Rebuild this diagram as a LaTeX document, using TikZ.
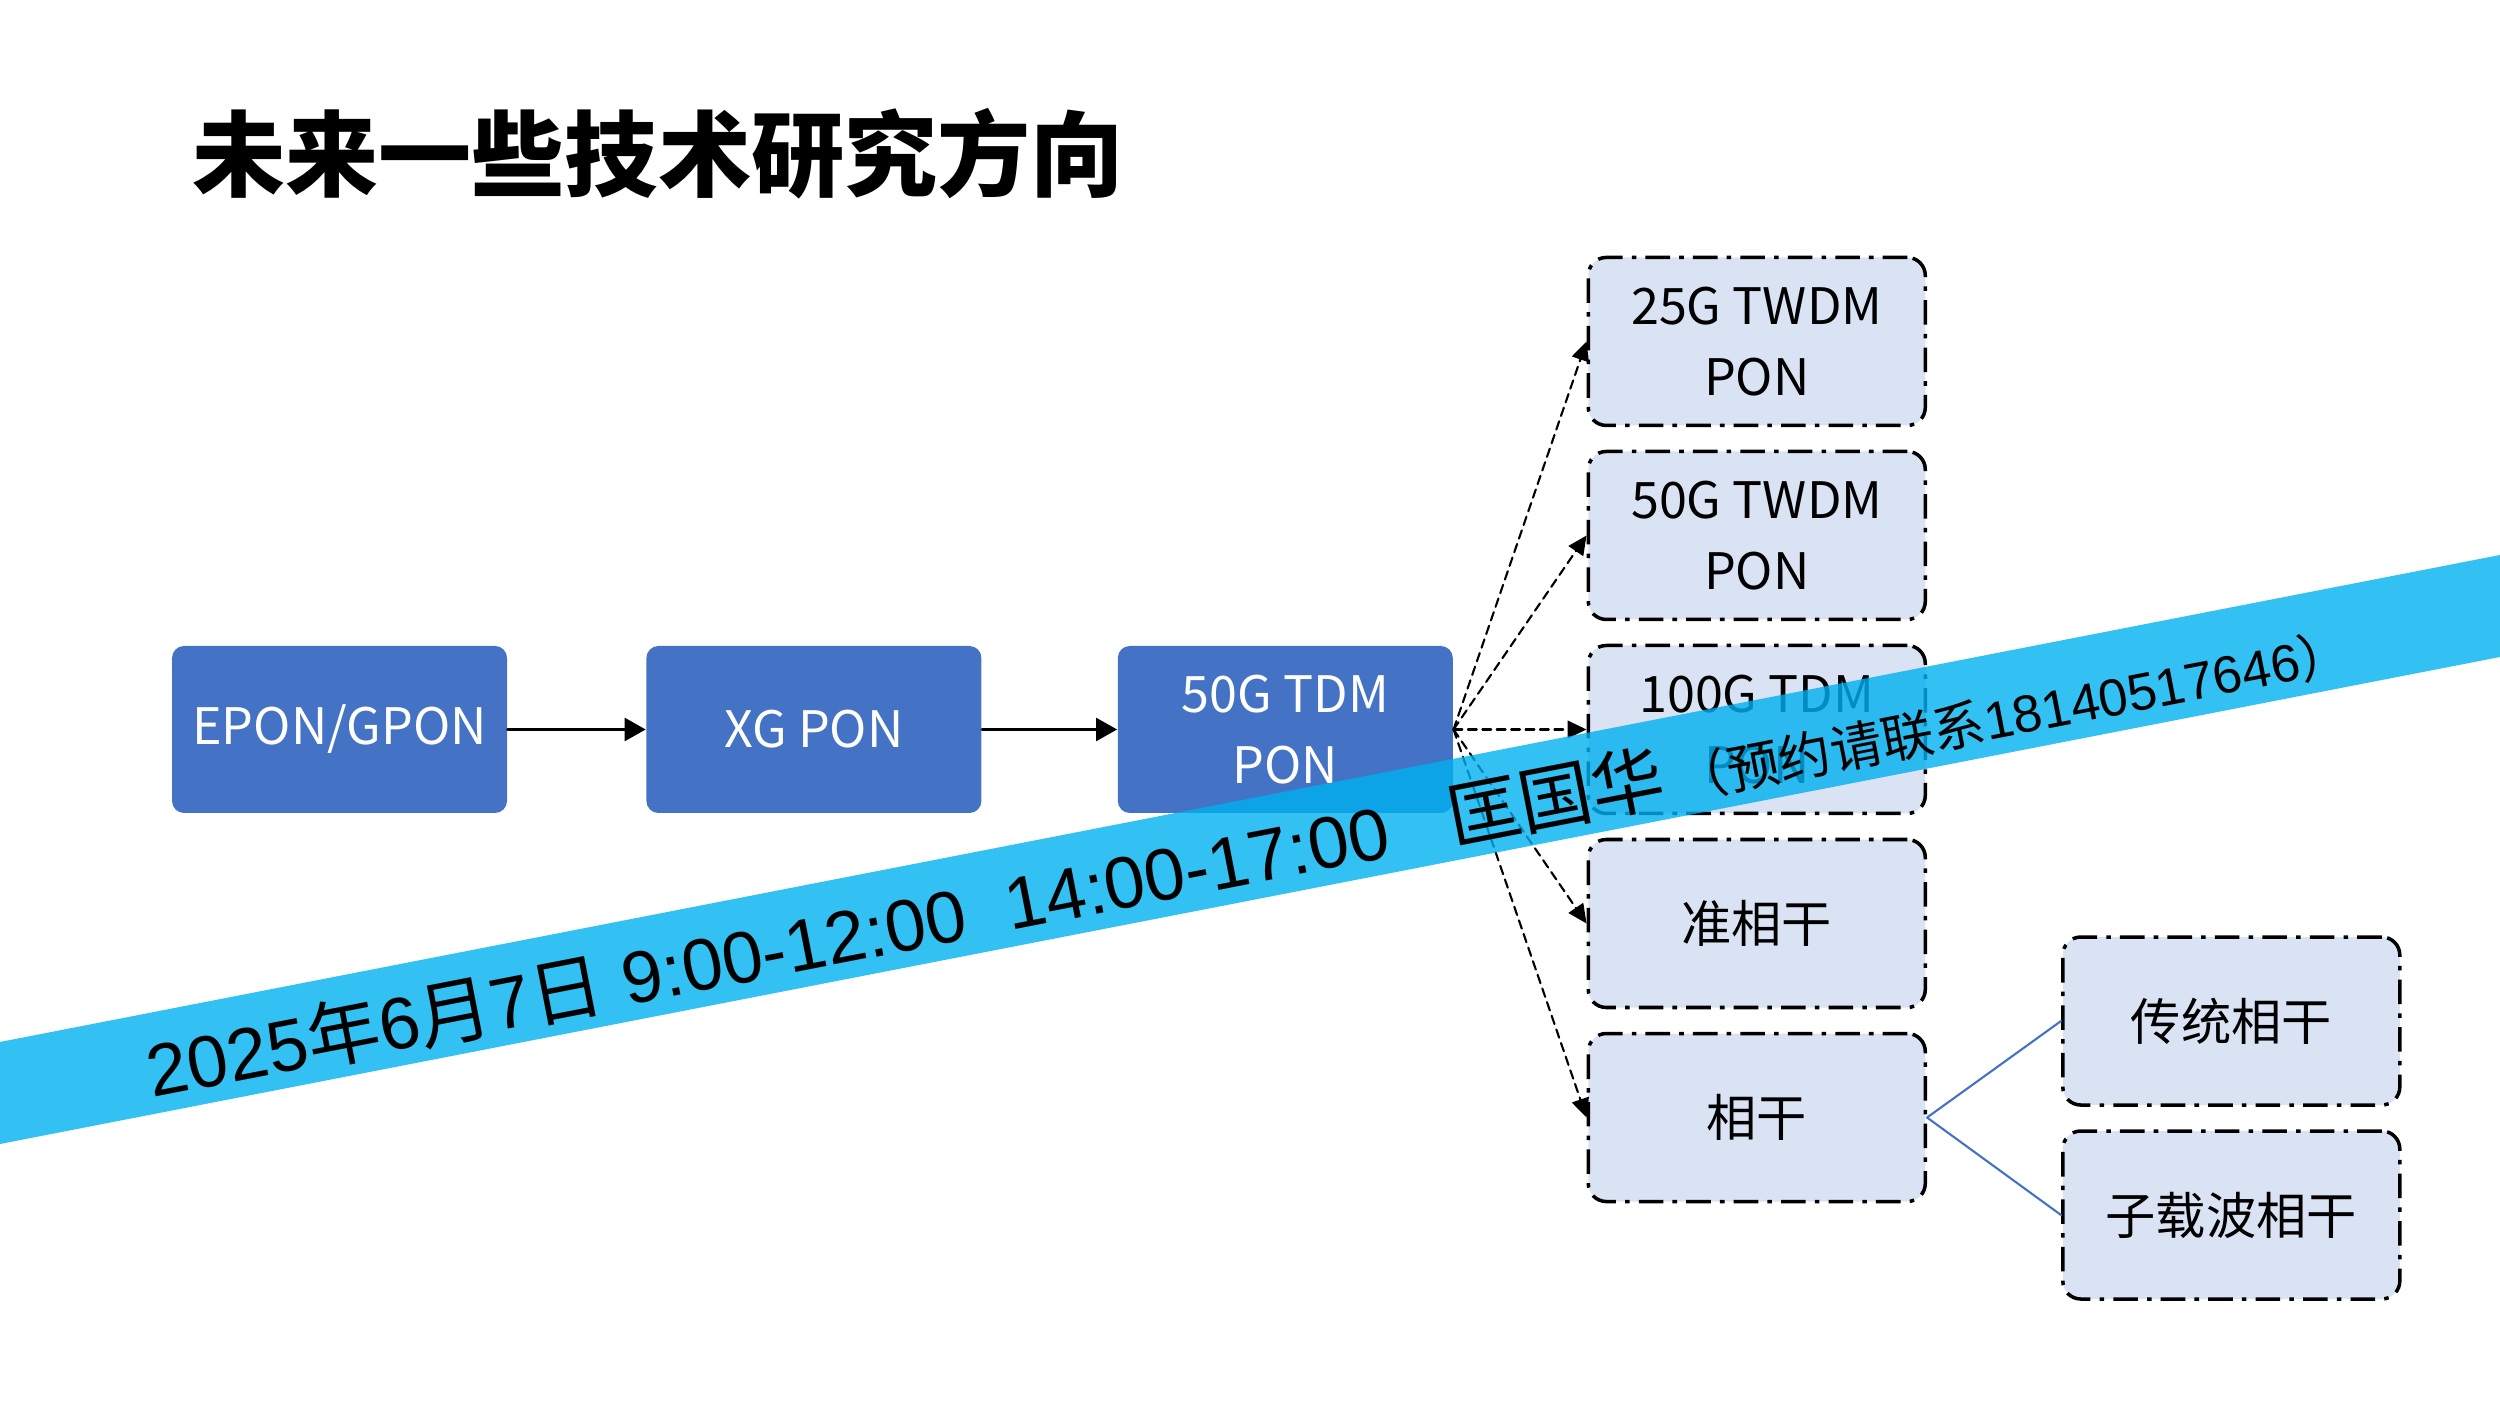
\documentclass[tikz,border=0pt]{standalone}
\usepackage{fontspec}
\setmainfont{Noto Sans CJK SC}
\newfontfamily\arialf{Liberation Sans}
\newfontfamily\cjkf{Noto Sans CJK SC}
\usetikzlibrary{arrows.meta,positioning}
\definecolor{stageblue}{HTML}{4472C4}
\definecolor{optfill}{HTML}{DAE3F3}
\definecolor{bandblue}{HTML}{00B0F0}

\begin{document}
\begin{tikzpicture}[line cap=round,line join=round,>={Triangle[length=6pt,width=6.5pt]},x=1.0cm,y=1.0cm,
	stage/.style={rectangle,rounded corners=1.2mm,fill=stageblue,text=white,minimum width=3.35cm,minimum height=1.67cm,
		align=center,inner sep=0pt,font=\fontsize{14.3}{20.2}\selectfont},
	option/.style={rectangle,rounded corners=1.8mm,fill=optfill,draw=black,line width=1pt,line cap=butt,
		dash pattern=on 7pt off 2.6pt on 1.3pt off 2.6pt,minimum width=3.37cm,minimum height=1.68cm,
		align=center,inner sep=0pt,font=\fontsize{14.3}{20.2}\selectfont},
	trend/.style={-{Triangle[length=5.4pt,width=5pt]},line width=0.6pt,dash pattern=on 2.5pt off 1.6pt}]
	\useasboundingbox (0,0) rectangle (25,14.06);
	\node[font=\fontsize{26.5}{30}\selectfont\bfseries] (title) at (6.58,12.52) {未来一些技术研究方向};
	% evolution path
	\node[stage] (epon) at (3.395,6.765) {EPON/GPON};
	\node[stage,right=1.38cm of epon] (xg) {XG PON};
	\node[stage,right=1.35cm of xg] (tdm50) {50G TDM\\PON};
	\draw[->,line width=0.9pt] (epon) -- (xg);
	\draw[->,line width=0.9pt] (xg) -- (tdm50);
	% candidates
	\node[option,right=1.33cm of tdm50] (tdm100) {100G TDM\\PON};
	\node[option,above=0.225cm of tdm100] (twdm50) {50G TWDM\\PON};
	\node[option,above=0.225cm of twdm50] (twdm25) {25G TWDM\\PON};
	\node[option,below=0.225cm of tdm100] (quasi) {准相干};
	\node[option,below=0.225cm of quasi] (coh) {相干};
	\node[option,right=1.34cm of coh,yshift=0.965cm] (classic) {传统相干};
	\node[option,right=1.34cm of coh,yshift=-0.975cm] (subcar) {子载波相干};
	\foreach \t in {twdm25,twdm50,tdm100,quasi,coh}
		\draw[trend] (tdm50.east) -- (\t.west);
	\draw[stageblue,line width=0.6pt] (classic.west) -- (coh.east) -- (subcar.west);
	% banner
	\fill[bandblue,fill opacity=0.8] (0,3.64) -- (25,8.51) -- (25,7.49) -- (0,2.62) -- cycle;
	\node[rotate=11.02,anchor=base west,inner sep=0pt] (notice) at (1.52,3.08)
		{{\arialf\fontsize{20.8}{24}\selectfont 2025{\cjkf 年}6{\cjkf 月}7{\cjkf 日} 9:00-12:00\ \ 14:00-17:00\ \ \ {\cjkf 匡国华}}{\fontsize{14.9}{17}\selectfont\ {\cjkf （预约请联系}{\arialf 18140517646}{\cjkf ）}}};
\end{tikzpicture}
\end{document}
